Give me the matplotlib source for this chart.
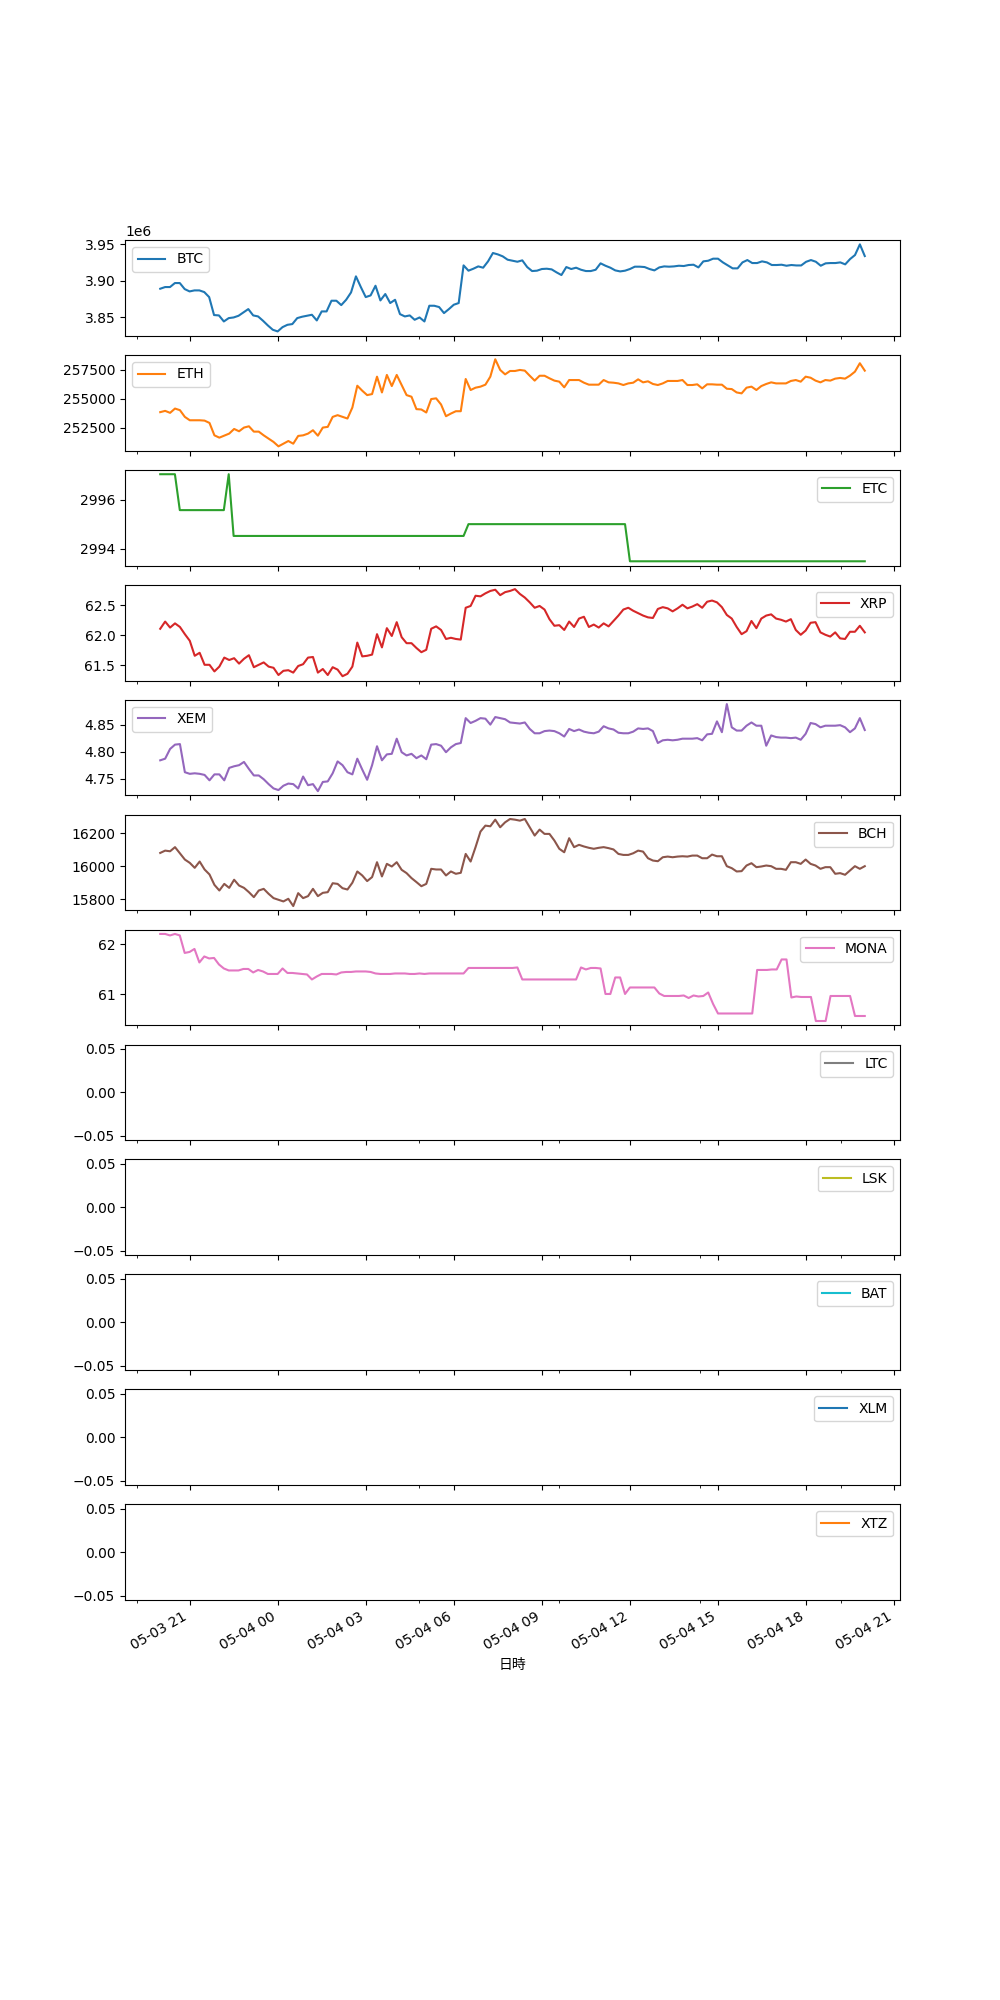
import pandas as pd
import matplotlib.pyplot as plt
import matplotlib.dates as mdates
from matplotlib.ticker import MultipleLocator

start = "2022-05-03 20:00"
end = "2022-05-04 20:00"

names = ["BTC", "ETH", "ETC", "XRP", "XEM", "BCH", "MONA",
         "LTC", "LSK", "BAT", "XLM", "XTZ"]
legend_left = ["BTC", "ETH", "XEM"]

btc = [3889000, 3891300, 3891300, 3896800, 3896800, 3888500, 3885300, 3886700, 3886700, 3884400,
       3877500, 3852800, 3852300, 3844000, 3848600, 3849500, 3851800, 3856400, 3861000, 3852300,
       3850900, 3845000, 3838500, 3832600, 3830300, 3836200, 3839400, 3840400, 3848600, 3850500,
       3851800, 3853200, 3845400, 3857800, 3857800, 3872500, 3872500, 3866500, 3873800, 3883900,
       3906000, 3891300, 3877500, 3879800, 3893100, 3872900, 3881700, 3869300, 3873800, 3854100,
       3850900, 3852300, 3846300, 3849500, 3844000, 3865600, 3865600, 3863800, 3855500, 3861000,
       3867000, 3869300, 3921100, 3913800, 3916500, 3919700, 3917900, 3926600, 3938100, 3936200,
       3933500, 3928900, 3927500, 3926100, 3928000, 3918800, 3913300, 3913800, 3916100, 3916500,
       3915600, 3911500, 3907800, 3918800, 3916100, 3917900, 3915100, 3913300, 3913300, 3915100,
       3923900, 3920600, 3917900, 3914200, 3912800, 3913800, 3916100, 3919300, 3919300, 3918800,
       3916100, 3914200, 3918300, 3919700, 3919300, 3919700, 3920600, 3920200, 3921600, 3922000,
       3918300, 3926600, 3927500, 3930300, 3930300, 3925200, 3921100, 3917000, 3917000, 3925200,
       3928400, 3924300, 3924300, 3926600, 3925200, 3921600, 3921600, 3922000, 3920600, 3921600,
       3921000, 3921000, 3926000, 3928400, 3926100, 3920600, 3923900, 3924300, 3924300, 3925200,
       3922500, 3929800, 3935300, 3950000, 3933900]

eth = [253860, 253970, 253800, 254170, 254030, 253450, 253160, 253160, 253160, 253130,
       252930, 251860, 251660, 251830, 252010, 252410, 252210, 252530, 252640, 252180,
       252180, 251860, 251570, 251290, 250910, 251140, 251370, 251140, 251810, 251860,
       252010, 252300, 251830, 252530, 252590, 253450, 253600, 253450, 253310, 254260,
       256140, 255710, 255330, 255420, 256920, 255560, 257070, 256110, 257070, 256200,
       255330, 255190, 254120, 254090, 253830, 254990, 255050, 254520, 253510, 253740,
       253940, 253940, 256720, 255770, 255970, 256060, 256230, 256920, 258420, 257500,
       257120, 257410, 257410, 257500, 257440, 257000, 256580, 257000, 257000, 256780,
       256580, 256490, 256000, 256630, 256630, 256630, 256400, 256230, 256230, 256230,
       256630, 256430, 256400, 256340, 256200, 256340, 256400, 256690, 256430, 256520,
       256290, 256200, 256340, 256550, 256550, 256550, 256630, 256200, 256200, 256260,
       255910, 256260, 256260, 256230, 256230, 255880, 255850, 255560, 255480, 255970,
       256060, 255770, 256110, 256290, 256430, 256340, 256340, 256340, 256550, 256630,
       256490, 256920, 256830, 256580, 256430, 256630, 256580, 256750, 256810, 256750,
       257010, 257350, 258080, 257440]

etc = ([2997.04] * 4 + [2995.58] * 10 + [2997.04] + [2994.53] * 48
       + [2995.01] * 33 + [2993.50] * 49)

xrp = [62.11, 62.23, 62.13, 62.20, 62.14, 62.02, 61.91, 61.66, 61.71, 61.51,
       61.51, 61.40, 61.48, 61.63, 61.59, 61.62, 61.53, 61.61, 61.67, 61.47,
       61.51, 61.55, 61.48, 61.46, 61.34, 61.41, 61.42, 61.38, 61.49, 61.52,
       61.63, 61.64, 61.38, 61.44, 61.34, 61.47, 61.43, 61.32, 61.36, 61.48,
       61.88, 61.65, 61.66, 61.68, 62.02, 61.80, 62.12, 61.99, 62.22, 61.97,
       61.87, 61.87, 61.79, 61.72, 61.76, 62.11, 62.15, 62.09, 61.94, 61.96,
       61.94, 61.93, 62.46, 62.49, 62.66, 62.65, 62.70, 62.74, 62.76, 62.67,
       62.72, 62.74, 62.77, 62.69, 62.63, 62.55, 62.46, 62.49, 62.43, 62.27,
       62.16, 62.17, 62.09, 62.23, 62.14, 62.28, 62.31, 62.14, 62.18, 62.13,
       62.20, 62.15, 62.24, 62.33, 62.43, 62.46, 62.41, 62.37, 62.33, 62.30,
       62.29, 62.44, 62.47, 62.45, 62.40, 62.45, 62.51, 62.45, 62.48, 62.52,
       62.46, 62.56, 62.58, 62.55, 62.47, 62.34, 62.28, 62.14, 62.02, 62.07,
       62.24, 62.12, 62.28, 62.33, 62.35, 62.28, 62.26, 62.23, 62.27, 62.09,
       62.01, 62.08, 62.21, 62.22, 62.05, 62.01, 61.98, 62.05, 61.95, 61.94,
       62.06, 62.06, 62.16, 62.05]

xem = [4.784, 4.787, 4.805, 4.813, 4.814, 4.762, 4.759, 4.760, 4.759, 4.757,
       4.747, 4.758, 4.758, 4.747, 4.770, 4.773, 4.775, 4.781, 4.768, 4.756,
       4.756, 4.749, 4.740, 4.732, 4.729, 4.737, 4.741, 4.740, 4.732, 4.754,
       4.738, 4.740, 4.727, 4.744, 4.745, 4.760, 4.782, 4.775, 4.762, 4.758,
       4.787, 4.767, 4.748, 4.775, 4.810, 4.784, 4.795, 4.796, 4.824, 4.799,
       4.793, 4.796, 4.788, 4.793, 4.786, 4.813, 4.814, 4.811, 4.799, 4.808,
       4.814, 4.816, 4.862, 4.853, 4.857, 4.862, 4.861, 4.850, 4.864, 4.862,
       4.860, 4.854, 4.853, 4.852, 4.854, 4.842, 4.834, 4.834, 4.838, 4.839,
       4.838, 4.834, 4.828, 4.842, 4.838, 4.841, 4.837, 4.835, 4.834, 4.837,
       4.847, 4.843, 4.841, 4.835, 4.834, 4.834, 4.837, 4.843, 4.842, 4.843,
       4.838, 4.816, 4.821, 4.822, 4.821, 4.822, 4.824, 4.824, 4.824, 4.825,
       4.821, 4.832, 4.833, 4.856, 4.836, 4.888, 4.845, 4.839, 4.839, 4.848,
       4.854, 4.848, 4.848, 4.811, 4.830, 4.827, 4.826, 4.826, 4.825, 4.826,
       4.822, 4.833, 4.853, 4.851, 4.845, 4.848, 4.848, 4.848, 4.849, 4.845,
       4.836, 4.843, 4.862, 4.840]

bch = [16081, 16095, 16091, 16116, 16079, 16041, 16021, 15991, 16029, 15981,
       15951, 15888, 15854, 15894, 15870, 15919, 15884, 15870, 15844, 15814,
       15854, 15864, 15834, 15808, 15798, 15788, 15804, 15760, 15838, 15808,
       15820, 15864, 15820, 15840, 15844, 15898, 15894, 15868, 15860, 15901,
       15969, 15945, 15911, 15935, 16025, 15939, 16015, 15999, 16025, 15979,
       15959, 15929, 15905, 15880, 15894, 15985, 15981, 15981, 15945, 15969,
       15955, 15961, 16075, 16029, 16116, 16210, 16246, 16242, 16282, 16236,
       16266, 16286, 16282, 16276, 16286, 16236, 16186, 16222, 16196, 16196,
       16156, 16106, 16085, 16170, 16116, 16130, 16120, 16112, 16106, 16112,
       16116, 16110, 16102, 16075, 16069, 16069, 16079, 16095, 16089, 16049,
       16035, 16031, 16055, 16059, 16055, 16059, 16061, 16059, 16065, 16065,
       16049, 16049, 16071, 16061, 16061, 16001, 15989, 15969, 15971, 16005,
       16019, 15995, 15999, 16005, 16001, 15985, 15985, 15979, 16025, 16025,
       16015, 16041, 16015, 16005, 15985, 15995, 15995, 15955, 15959, 15949,
       15975, 16001, 15985, 16001]

mona = [62.21, 62.21, 62.18, 62.21, 62.18, 61.83, 61.85, 61.91, 61.64, 61.76,
        61.72, 61.73, 61.60, 61.52, 61.48, 61.48, 61.48, 61.51, 61.51, 61.44,
        61.49, 61.46, 61.41, 61.41, 61.41, 61.52, 61.43, 61.43, 61.42, 61.41,
        61.40, 61.30, 61.36, 61.41, 61.41, 61.41, 61.40, 61.44, 61.45, 61.45,
        61.46, 61.46, 61.46, 61.45, 61.42, 61.41, 61.41, 61.41, 61.42, 61.42,
        61.42, 61.41, 61.41, 61.42, 61.41, 61.42, 61.42, 61.42, 61.42, 61.42,
        61.42, 61.42, 61.42, 61.53, 61.53, 61.53, 61.53, 61.53, 61.53, 61.53,
        61.53, 61.53, 61.53, 61.54, 61.30, 61.30, 61.30, 61.30, 61.30, 61.30,
        61.30, 61.30, 61.30, 61.30, 61.30, 61.30, 61.54, 61.50, 61.53, 61.53,
        61.52, 61.01, 61.01, 61.34, 61.34, 61.01, 61.14, 61.14, 61.14, 61.14,
        61.14, 61.14, 61.02, 60.97, 60.97, 60.97, 60.97, 60.98, 60.93, 60.98,
        60.96, 60.97, 61.04, 60.81, 60.62, 60.62, 60.62, 60.62, 60.62, 60.62,
        60.62, 60.62, 61.49, 61.49, 61.49, 61.50, 61.50, 61.70, 61.70, 60.94,
        60.96, 60.95, 60.95, 60.95, 60.47, 60.47, 60.47, 60.97, 60.97, 60.97,
        60.97, 60.97, 60.57, 60.57, 60.57]

# LTC, LSK, BAT, XLM, XTZ have no values in the data
series = {"BTC": btc, "ETH": eth, "ETC": etc, "XRP": xrp, "XEM": xem,
          "BCH": bch, "MONA": mona}

fig, axes = plt.subplots(len(names), 1, figsize=(10, 20), sharex=True)

for i, (ax, name) in enumerate(zip(axes, names)):
    color = "C%d" % (i % 10)
    vals = series.get(name)
    if vals:
        t = pd.date_range(start, end, periods=len(vals))
        ax.plot(t, vals, color=color, label=name)
    else:
        t = pd.date_range(start, end, periods=145)
        ax.plot(t, [float("nan")] * len(t), color=color, label=name)
        ax.set_ylim(-0.055, 0.055)
    ax.legend(loc="upper left" if name in legend_left else "upper right")

axes[-1].xaxis.set_major_locator(mdates.HourLocator(byhour=range(0, 24, 3)))
axes[-1].xaxis.set_major_formatter(mdates.DateFormatter("%m-%d %H"))
axes[-1].xaxis.set_minor_locator(MultipleLocator(0.2))
axes[-1].set_xlabel("日時", fontfamily=["Noto Sans CJK JP", "DejaVu Sans"])

fig.autofmt_xdate()
fig.savefig("out.png", dpi=100)
